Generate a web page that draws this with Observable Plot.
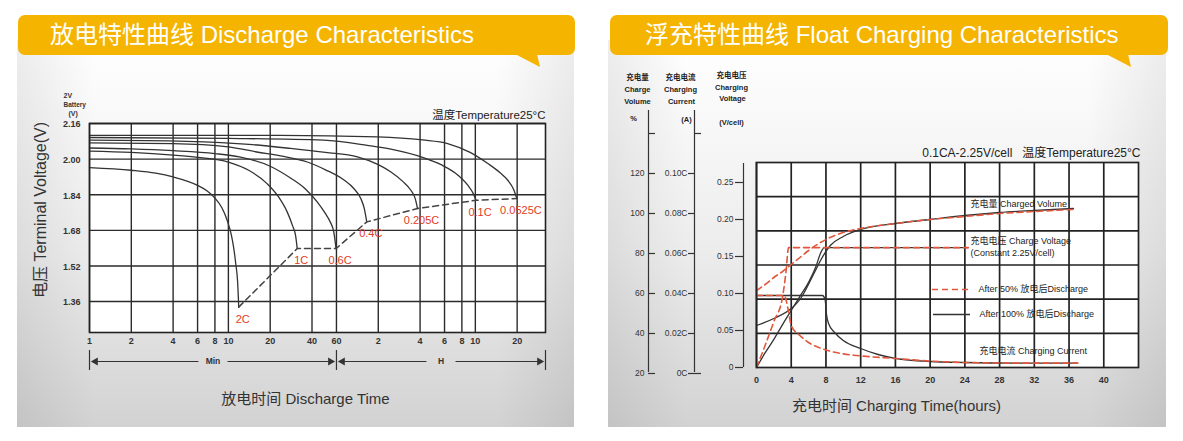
<!DOCTYPE html>
<html><head><meta charset="utf-8">
<script src="https://cdn.jsdelivr.net/npm/d3@7"></script>
<script src="https://cdn.jsdelivr.net/npm/@observablehq/plot@0.6"></script>
<style>
html,body{margin:0;padding:0;background:#fff;}
body{width:1183px;height:441px;position:relative;overflow:hidden;font-family:"Liberation Sans","Noto Sans CJK SC",sans-serif;}
.panel{position:absolute;top:40px;height:387px;background:linear-gradient(to right,rgba(0,0,0,0.07) 0%,rgba(0,0,0,0) 14%,rgba(0,0,0,0) 86%,rgba(0,0,0,0.07) 100%),linear-gradient(to bottom,#ffffff 0%,#fbfbfb 12%,#ececec 55%,#d2d2d2 100%);}
.banner{position:absolute;top:15px;height:40px;background:#F5B400;border-radius:7px;color:#fff;font-size:24px;line-height:40px;box-sizing:border-box;white-space:nowrap;}
.tail{position:absolute;top:54px;width:25px;height:13px;background:#F5B400;clip-path:polygon(0 0,100% 100%,88% 0);}
.chart{position:absolute;top:55px;}
</style></head><body>
<div class="panel" style="left:17px;width:557px"></div>
<div class="panel" style="left:608px;width:558px"></div>
<div class="banner" style="left:18px;width:557px;padding-left:32px">放电特性曲线 Discharge Characteristics</div>
<div class="tail" style="left:515px"></div>
<div class="banner" style="left:610px;width:558px;padding-left:35px">浮充特性曲线 Float Charging Characteristics</div>
<div class="tail" style="left:1106px"></div>
<div id="left" class="chart" style="left:17px"></div>
<div id="right" class="chart" style="left:608px"></div>
<script>
const FONT = '"Liberation Sans","Noto Sans CJK SC",sans-serif';

// ================= Discharge characteristics data =================
// x ticks (minutes); labels shown in minutes up to 60, then in hours
const minuteTicks = [1, 2, 4, 6, 8, 10, 20, 40, 60, 120, 240, 360, 480, 600, 1200];
const voltTicks = [2.16, 2.00, 1.84, 1.68, 1.52, 1.36];
const rates = ["2C", "1C", "0.6C", "0.4C", "0.205C", "0.1C", "0.0525C"];
// [minutes, volts]
const d2C = [[1,1.962],[2,1.950],[3,1.937],[4,1.920],[6,1.882],[7,1.858],[8,1.825],[9,1.780],[9.8,1.725],[10.5,1.66],[10.9,1.605],[11.3,1.53],[11.65,1.45],[11.87,1.335]];
const d1C = [[1,2.036],[2,2.030],[4,2.018],[6,2.008],[10,1.987],[14,1.950],[19,1.890],[23,1.830],[26.5,1.763],[29,1.700],[30.5,1.655],[31.3,1.598]];
const d06C = [[1,2.050],[2,2.046],[4,2.038],[8,2.025],[12,2.010],[20,1.968],[28,1.915],[36,1.865],[43.6,1.808],[50,1.755],[54,1.719],[57.5,1.670],[59.6,1.598]];
const d04C = [[1,2.073],[4,2.070],[10,2.055],[16,2.032],[25,2.012],[37,1.987],[50,1.952],[68,1.906],[80,1.868],[89.8,1.823],[95,1.780],[99.2,1.718]];
const d0205C = [[1,2.085],[5,2.080],[15,2.065],[28,2.048],[50,2.030],[85,2.010],[120,1.975],[148,1.942],[180,1.900],[206,1.860],[222,1.820],[230,1.778]];
const d01C = [[1,2.097],[10,2.093],[48.5,2.085],[100,2.062],[148,2.045],[250,2.008],[340,1.975],[450,1.928],[529,1.883],[580,1.845],[607,1.815]];
const d00525C = [[1,2.107],[23.7,2.107],[118.5,2.100],[250,2.086],[379,2.070],[550,2.030],[738,1.980],[900,1.940],[1028,1.905],[1130,1.865],[1195,1.823]];
const dischargeCurves = [d2C, d1C, d06C, d04C, d0205C, d01C, d00525C];
const timeRanges = [{label: "Min", from: 1, to: 60}, {label: "H", from: 60, to: 1920}];

// ================= Float charging data =================
const hourTicks = [0, 4, 8, 12, 16, 20, 24, 28, 32, 36, 40];
const volumeAxisTicks = [20, 40, 60, 80, 100, 120];          // %
const currentAxisTicks = [0, 0.02, 0.04, 0.06, 0.08, 0.10];  // C
const voltageAxisTicks = [0, 0.05, 0.10, 0.15, 0.20, 0.25];  // V/cell
// charged volume (%) [hours, %]
const volume100 = [[0,44],[2,47.5],[4,52.5],[5,57],[5.5,60.5],[6.5,69],[7.5,77.5],[8.5,84],[10,88.5],[12,92],[16,95],[20,97],[24,99],[28,100.5],[32,101.5],[36.5,102.5]];
const volume50 = [[0,61.5],[1,64.5],[2,68],[3,71],[4,74.5],[5,78],[6,81.5],[7,84.5],[8,87],[10,90.5],[12,92.5],[16,95],[20,97],[24,98.5],[28,100],[32,101],[36.5,102]];
// charge voltage (V/cell axis) [hours, V]
const voltage100 = [[0,0],[1,0.020],[2,0.038],[3,0.058],[4,0.077],[5,0.096],[6,0.115],[6.8,0.135],[7.4,0.155],[7.8,0.162],[24.4,0.162]];
const voltage50 = [[0,0],[1,0.030],[2,0.062],[3,0.095],[3.4,0.130],[3.7,0.162],[24.4,0.162]];
// charging current (C) [hours, C]
const current100 = [[0,0.039],[7.6,0.039],[7.9,0.037],[8.05,0.030],[8.3,0.025],[9,0.0205],[10,0.0165],[12,0.0125],[14,0.0095],[16,0.0076],[20,0.0060],[24,0.0055],[30,0.0052],[37,0.0052]];
const current50 = [[0,0.039],[3.2,0.039],[3.6,0.033],[4,0.024],[5,0.019],[6,0.0155],[8,0.0118],[10,0.0098],[12,0.0088],[16,0.0075],[20,0.0062],[24,0.0055],[30,0.0052],[37,0.0052]];

// ================= Left chart =================
const L = {left: 17, top: 55, w: 556, h: 371, ml: 72, mr: 28, mt: 68, mb: 94, x: [1, 1920], y: [1.221, 2.16]};
const lfh = L.h - L.mt - L.mb;
const vBelow = px => L.y[0] - px * (L.y[1] - L.y[0]) / lfh;

const curveRows = dischargeCurves.flatMap((c, i) => c.map(([t, v]) => ({rate: rates[i], t, v})));
const ends = dischargeCurves.map((c, i) => ({rate: rates[i], t: c[c.length - 1][0], v: c[c.length - 1][1]}));
const arrowRows = timeRanges.flatMap(r => {
  const c = Math.sqrt(r.from * r.to);
  return [{x1: c, x2: r.from, dir: -1}, {x1: c, x2: r.to, dir: 1}];
});
const leftHeads = arrowRows.filter(d => d.dir < 0);
const rightHeads = arrowRows.filter(d => d.dir > 0);
const rangeLabels = timeRanges.map(r => ({label: r.label, t: Math.sqrt(r.from * r.to)}));
const GRID = "#2b2b2b";
const small = {fontSize: 7, fontWeight: "bold", fill: "#333", frameAnchor: "top-left", textAnchor: "start", lineAnchor: "middle", text: d => d};
const yBase = () => L.y[0];

const left = Plot.plot({
  width: L.w, height: L.h, marginLeft: L.ml, marginRight: L.mr, marginTop: L.mt, marginBottom: L.mb,
  style: {background: "transparent", fontFamily: FONT, overflow: "visible"},
  x: {type: "log", domain: L.x, axis: null},
  y: {domain: L.y, axis: null},
  marks: [
    Plot.frame({fill: "#fff", stroke: null}),
    Plot.ruleX(minuteTicks, {stroke: GRID, strokeWidth: 1.4}),
    Plot.ruleY(voltTicks, {stroke: GRID, strokeWidth: 1.4}),
    Plot.line(curveRows, {x: "t", y: "v", z: "rate", curve: "monotone-x", stroke: "#333", strokeWidth: 1.3}),
    Plot.line(ends, {x: "t", y: "v", stroke: "#444", strokeWidth: 1.5, strokeDasharray: "6,4"}),
    Plot.text(ends, {x: "t", y: "v", text: "rate", dx: 4, dy: 12, fill: "#e03c24", fontSize: 11}),
    Plot.frame({stroke: "#222", strokeWidth: 1.6}),
    // x tick labels (minutes, then hours)
    Plot.text(minuteTicks, {x: d => d, frameAnchor: "bottom", lineAnchor: "middle", dy: 9, text: t => t <= 60 ? String(t) : String(t / 60), fontSize: 9, fontWeight: "bold", fill: "#333"}),
    // y tick labels
    Plot.text(voltTicks, {y: d => d, frameAnchor: "left", textAnchor: "end", lineAnchor: "middle", dx: -9, dy: 1, text: d3.format(".2f"), fontSize: 9, fontWeight: "bold", fill: "#333"}),
    Plot.text(["电压 Terminal Voltage(V)"], {text: d => d, frameAnchor: "left", textAnchor: "middle", lineAnchor: "middle", rotate: -90, dx: -49, dy: -18, fontSize: 16, fill: "#333"}),
    Plot.text(["2V"], {...small, dx: -26, dy: -28}),
    Plot.text(["Battery"], {...small, fontSize: 6.5, dx: -26, dy: -19}),
    Plot.text(["(V)"], {...small, dx: -21, dy: -10}),
    Plot.text(["温度Temperature25°C"], {text: d => d, frameAnchor: "top-right", textAnchor: "end", lineAnchor: "middle", dy: -8, fontSize: 11.5, fill: "#222"}),
    // Min / H range arrows
    Plot.arrow(arrowRows, {x1: "x1", x2: "x2", y1: yBase, y2: yBase, dy: 29, insetStart: 15, insetEnd: 6, headLength: 0, stroke: "#333", strokeWidth: 1.2}),
    Plot.dot(leftHeads, {x: "x2", y: yBase, dy: 29, dx: 6, symbol: "triangle", r: 3, rotate: -90, fill: "#333", stroke: null}),
    Plot.dot(rightHeads, {x: "x2", y: yBase, dy: 29, dx: -6, symbol: "triangle", r: 3, rotate: 90, fill: "#333", stroke: null}),
    Plot.ruleX([1, 60, 1920], {y1: vBelow(18), y2: vBelow(38), stroke: "#333", strokeWidth: 1.2}),
    Plot.text(rangeLabels, {x: "t", y: yBase, dy: 29, text: "label", fontSize: 8.5, fontWeight: "bold", fill: "#333", lineAnchor: "middle"}),
    Plot.text(["放电时间 Discharge Time"], {text: d => d, frameAnchor: "bottom", lineAnchor: "middle", dx: -12, dy: 67, fontSize: 15, fill: "#333"})
  ]
});
document.getElementById("left").append(left);

// ================= Right chart =================
const R = {left: 608, top: 55, w: 557, h: 371, ml: 148, mr: 27, mt: 107, mb: 59, x: [0, 44], y: [23, 125.5]};
const hAt = ax => R.x[0] + (ax - R.left - R.ml) / (R.w - R.ml - R.mr) * (R.x[1] - R.x[0]);
const vAt = ay => R.y[1] - (ay - R.top - R.mt) / (R.h - R.mt - R.mb) * (R.y[1] - R.y[0]);
// the plot's vertical scale is the "Charge Volume %" axis; the other two axes are mapped onto it
const fromVol = v => v;
const fromCur = c => 20 + 1000 * c;
const fromVolt = V => 23 + 370 * V;
const gridY = d3.range(1, 6).map(i => R.y[0] + i * (R.y[1] - R.y[0]) / 6);

const rowsOf = (arr, conv, series) => arr.map(([h, v]) => ({series, h, y: conv(v)}));
const solidRows = [
  ...rowsOf(volume100, fromVol, "vol"),
  ...rowsOf(voltage100, fromVolt, "volt"),
  ...rowsOf(current100, fromCur, "cur")
];
const dashedRows = [
  ...rowsOf(volume50, fromVol, "vol"),
  ...rowsOf(voltage50, fromVolt, "volt"),
  ...rowsOf(current50, fromCur, "cur")
];
const RED = "#e2563c";
const AX = "#333";

const headers = [
  {t: "充电量", x: 637, y: 77}, {t: "Charge", x: 637, y: 89}, {t: "Volume", x: 637, y: 101}, {t: "%", x: 633, y: 118},
  {t: "充电电流", x: 680, y: 77}, {t: "Charging", x: 680, y: 89}, {t: "Current", x: 681, y: 101}, {t: "(A)", x: 686, y: 119},
  {t: "充电电压", x: 731, y: 75}, {t: "Charging", x: 731, y: 87}, {t: "Voltage", x: 732, y: 98}, {t: "(V/cell)", x: 731, y: 122}
];
const legendTexts = [
  {t: "充电量 Charged Volume", x: 970, y: 204},
  {t: "充电电压 Charge Voltage", x: 970, y: 241},
  {t: "(Constant 2.25V/cell)", x: 970, y: 253},
  {t: "After 50% 放电后Discharge", x: 978, y: 289},
  {t: "After 100% 放电后Discharge", x: 979, y: 314},
  {t: "充电电流 Charging Current", x: 979, y: 351}
];

const right = Plot.plot({
  width: R.w, height: R.h, marginLeft: R.ml, marginRight: R.mr, marginTop: R.mt, marginBottom: R.mb,
  style: {background: "transparent", fontFamily: FONT, overflow: "visible"},
  x: {domain: R.x, axis: null},
  y: {domain: R.y, axis: null},
  marks: [
    Plot.frame({fill: "#fff", stroke: null}),
    Plot.ruleX(hourTicks, {stroke: "#222", strokeWidth: 1.7}),
    Plot.ruleY(gridY, {stroke: "#222", strokeWidth: 1.7}),
    Plot.line(solidRows, {x: "h", y: "y", z: "series", curve: "monotone-x", stroke: "#333", strokeWidth: 1.3}),
    Plot.line(dashedRows, {x: "h", y: "y", z: "series", curve: "monotone-x", stroke: RED, strokeWidth: 1.6, strokeDasharray: "6,4"}),
    Plot.frame({stroke: "#222", strokeWidth: 1.7}),
    Plot.text(hourTicks, {x: d => d, frameAnchor: "bottom", lineAnchor: "middle", dy: 13, text: d => String(d), fontSize: 9, fontWeight: "bold", fill: "#333"}),
    // Charge volume axis
    Plot.ruleX([hAt(648)], {y1: vAt(110), y2: vAt(372), stroke: AX, strokeWidth: 1.2}),
    Plot.ruleY([...volumeAxisTicks, 140].map(fromVol), {x1: hAt(648), x2: hAt(655), stroke: AX, strokeWidth: 1.2}),
    Plot.text(volumeAxisTicks, {x: hAt(644), y: fromVol, text: d => String(d), textAnchor: "end", fontSize: 8.5, fill: "#333"}),
    // Charging current axis
    Plot.ruleX([hAt(694)], {y1: vAt(110), y2: vAt(372), stroke: AX, strokeWidth: 1.2}),
    Plot.ruleY(currentAxisTicks.map(fromCur), {x1: hAt(688), x2: hAt(694), stroke: AX, strokeWidth: 1.2}),
    Plot.ruleY([0.12, 0].map(fromCur), {x1: hAt(694), x2: hAt(701), stroke: AX, strokeWidth: 1.2}),
    Plot.text(currentAxisTicks, {x: hAt(687), y: fromCur, text: d => d === 0 ? "0C" : d.toFixed(2) + "C", textAnchor: "end", fontSize: 8.5, fill: "#333"}),
    // Charging voltage axis
    Plot.ruleX([hAt(743)], {y1: fromVolt(0), y2: vAt(163), stroke: AX, strokeWidth: 1.2}),
    Plot.ruleY(voltageAxisTicks.map(fromVolt), {x1: hAt(735), x2: hAt(743), stroke: AX, strokeWidth: 1.2}),
    Plot.text(voltageAxisTicks, {x: hAt(733), y: fromVolt, text: d => d === 0 ? "0" : d.toFixed(2), textAnchor: "end", fontSize: 8.5, fill: "#333"}),
    // axis headers
    Plot.text(headers, {x: d => hAt(d.x), y: d => vAt(d.y), text: "t", fontSize: 7.5, fontWeight: "bold", fill: "#222"}),
    // legend
    Plot.ruleY([vAt(289)], {x1: hAt(932), x2: hAt(970), stroke: RED, strokeWidth: 1.6, strokeDasharray: "6,4"}),
    Plot.ruleY([vAt(314)], {x1: hAt(933), x2: hAt(970), stroke: "#333", strokeWidth: 1.3}),
    Plot.text(legendTexts, {x: d => hAt(d.x), y: d => vAt(d.y), text: "t", textAnchor: "start", fontSize: 9, fill: "#222"}),
    Plot.text(["0.1CA-2.25V/cell\u00a0\u00a0\u00a0温度Temperature25°C"], {text: d => d, frameAnchor: "top-right", textAnchor: "end", lineAnchor: "middle", dx: 2, dy: -9, fontSize: 12, fill: "#222"}),
    Plot.text(["充电时间 Charging Time(hours)"], {text: d => d, frameAnchor: "bottom", lineAnchor: "middle", dx: -51, dy: 39, fontSize: 15, fill: "#333"})
  ]
});
document.getElementById("right").append(right);
</script>
</body></html>
